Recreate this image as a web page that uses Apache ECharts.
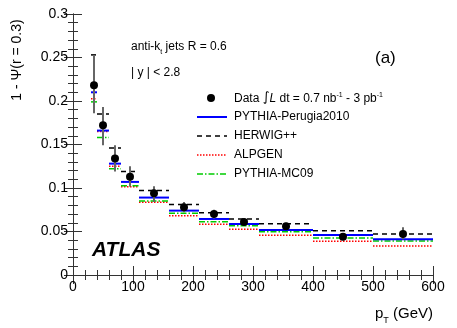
<!DOCTYPE html>
<html><head><meta charset="utf-8">
<script src="https://cdn.jsdelivr.net/npm/echarts@6/dist/echarts.min.js"></script>
<style>html,body{margin:0;padding:0;background:#fff}#c{width:457px;height:328px}</style>
</head><body><div id="c"></div>
<script>
const binLo = [30,40,60,80,110,160,210,260,310,400,500];
const binHi = [40,60,80,110,160,210,260,310,400,500,600];
const binCenter = [35,50,70,95,135,185,235,285,355,450,550];
const dataVal = [0.218,0.172,0.134,0.113,0.094,0.078,0.070,0.061,0.056,0.044,0.047];
const dataErrUp = [0.035,0.021,0.015,0.012,0.008,0.006,0.005,0.004,0.004,0.004,0.008];
const dataErrDn = [0.032,0.023,0.015,0.011,0.010,0.006,0.005,0.004,0.004,0.004,0.006];
const perugia = [0.210,0.166,0.128,0.107,0.089,0.074,0.0644,0.0586,0.0517,0.046,0.041];
const herwig  = [0.253,0.185,0.146,0.119,0.097,0.081,0.0716,0.0644,0.059,0.051,0.047];
const alpgen  = [0.2026,0.165,0.125,0.1015,0.0835,0.068,0.0583,0.0525,0.0456,0.0387,0.0333];
const mc09    = [0.199,0.158,0.122,0.1025,0.085,0.071,0.0613,0.0567,0.0498,0.0425,0.039];
const yTicks = [0,0.05,0.1,0.15,0.2,0.25,0.3];
const xTicks = [0,100,200,300,400,500,600];

const FONT = 'Liberation Sans, Arial, Helvetica, sans-serif';
const chart = echarts.init(document.getElementById('c'));

function histSeries(name, vals, color, width, dash, z) {
  return {
    name, type: 'custom', z,
    data: vals.map((v, i) => [binLo[i], binHi[i], v]),
    encode: { x: [0, 1], y: 2 },
    renderItem: function (params, api) {
      const a = api.coord([api.value(0), api.value(2)]);
      const b = api.coord([api.value(1), api.value(2)]);
      return { type: 'line', shape: { x1: a[0], y1: a[1], x2: b[0], y2: b[1] },
        style: { stroke: color, lineWidth: width, lineDash: dash } };
    }
  };
}

const axisCommon = {
  axisLine: { lineStyle: { color: '#333', width: 1 } },
  axisTick: { inside: true, length: 9, lineStyle: { color: '#333' } },
  minorTick: { show: true, splitNumber: 5, length: 5, lineStyle: { color: '#333' } },
  splitLine: { show: false }
};

chart.setOption({
  animation: false,
  grid: { left: 73, right: 24, top: 14, bottom: 53 },
  xAxis: [
    Object.assign({ type: 'value', min: 0, max: 600, interval: 100, position: 'bottom',
      axisLabel: { color: '#000', fontSize: 14, fontFamily: FONT, margin: 5 } }, axisCommon),
    Object.assign({ type: 'value', min: 0, max: 600, interval: 100, position: 'top',
      axisLabel: { show: false } }, axisCommon)
  ],
  yAxis: [
    Object.assign({ type: 'value', min: 0, max: 0.3, interval: 0.05, position: 'left',
      axisLabel: { color: '#000', fontSize: 14, fontFamily: FONT, margin: 5,
        formatter: v => String(+v.toFixed(2)) } }, axisCommon),
    Object.assign({ type: 'value', min: 0, max: 0.3, interval: 0.05, position: 'right',
      axisLabel: { show: false } }, axisCommon)
  ],
  series: [
    histSeries('ALPGEN', alpgen, '#ff0000', 1.5, [1.5, 1.5], 2),
    histSeries('PYTHIA-MC09', mc09, '#00cc00', 1.5, [6, 2, 1.5, 2], 3),
    histSeries('PYTHIA-Perugia2010', perugia, '#0000ff', 2, null, 4),
    histSeries('HERWIG++', herwig, '#000000', 1.5, [5, 4], 5),
    {
      name: 'err', type: 'custom', z: 6,
      data: binCenter.map((x, i) => [x, dataVal[i] - dataErrDn[i], dataVal[i] + dataErrUp[i]]),
      encode: { x: 0, y: [1, 2] },
      renderItem: function (params, api) {
        const a = api.coord([api.value(0), api.value(1)]);
        const b = api.coord([api.value(0), api.value(2)]);
        return { type: 'line', shape: { x1: a[0], y1: a[1], x2: b[0], y2: b[1] },
          style: { stroke: '#666', lineWidth: 2 } };
      }
    },
    {
      name: 'Data', type: 'scatter', z: 7, symbol: 'circle', symbolSize: 8,
      itemStyle: { color: '#000', opacity: 1 },
      data: binCenter.map((x, i) => [x, dataVal[i]])
    }
  ],
  graphic: [
    { type: 'text', x: 17, y: 60, rotation: Math.PI / 2,
      style: { text: '1 - Ψ(r = 0.3)', font: '14px ' + FONT, fill: '#000', align: 'center', verticalAlign: 'middle' } },
    { type: 'text', x: 433, y: 314,
      style: { text: '{n|p}{s|T}{n| (GeV)}', align: 'right', verticalAlign: 'middle',
        rich: { n: { font: '15px ' + FONT, fill: '#000', verticalAlign: 'bottom' },
                s: { font: '9px ' + FONT, fill: '#000', verticalAlign: 'bottom', padding: [0, 0, -4, 0] } } } },
    { type: 'text', x: 131, y: 47,
      style: { text: '{n|anti-k}{s|t}{n| jets R = 0.6}', verticalAlign: 'middle',
        rich: { n: { font: '12px ' + FONT, fill: '#000', verticalAlign: 'bottom' },
                s: { font: '7px ' + FONT, fill: '#000', verticalAlign: 'bottom', padding: [0, 0, -3, 0] } } } },
    { type: 'text', x: 131, y: 73,
      style: { text: '| y | < 2.8', font: '12px ' + FONT, fill: '#000', verticalAlign: 'middle' } },
    { type: 'text', x: 375, y: 58,
      style: { text: '(a)', font: '17px ' + FONT, fill: '#000', verticalAlign: 'middle' } },
    { type: 'text', x: 92, y: 250,
      style: { text: 'ATLAS', font: 'italic bold 21px ' + FONT, fill: '#000', verticalAlign: 'middle' } },
    // legend
    { type: 'circle', shape: { cx: 211, cy: 98, r: 4 }, style: { fill: '#000' } },
    { type: 'text', x: 234, y: 98,
      style: { text: '{n|Data }{i|∫}{li|L}{n| dt = 0.7 nb}{u|-1}{n| - 3 pb}{u|-1}', verticalAlign: 'middle',
        rich: { n: { font: '12px ' + FONT, fill: '#000', verticalAlign: 'bottom' },
                i: { font: '13px DejaVu Sans', fill: '#000', verticalAlign: 'bottom' },
                li: { font: 'italic 12px ' + FONT, fill: '#000', verticalAlign: 'bottom' },
                u: { font: '7px ' + FONT, fill: '#000', verticalAlign: 'top' } } } },
    { type: 'line', shape: { x1: 197, y1: 117, x2: 227, y2: 117 }, style: { stroke: '#0000ff', lineWidth: 2 } },
    { type: 'text', x: 234, y: 117, style: { text: 'PYTHIA-Perugia2010', font: '12px ' + FONT, fill: '#000', verticalAlign: 'middle' } },
    { type: 'line', shape: { x1: 197, y1: 136, x2: 227, y2: 136 }, style: { stroke: '#000', lineWidth: 1.5, lineDash: [5, 4] } },
    { type: 'text', x: 234, y: 136, style: { text: 'HERWIG++', font: '12px ' + FONT, fill: '#000', verticalAlign: 'middle' } },
    { type: 'line', shape: { x1: 197, y1: 155, x2: 227, y2: 155 }, style: { stroke: '#ff0000', lineWidth: 1.5, lineDash: [1.5, 1.5] } },
    { type: 'text', x: 234, y: 155, style: { text: 'ALPGEN', font: '12px ' + FONT, fill: '#000', verticalAlign: 'middle' } },
    { type: 'line', shape: { x1: 197, y1: 174, x2: 227, y2: 174 }, style: { stroke: '#00cc00', lineWidth: 1.5, lineDash: [6, 2, 1.5, 2] } },
    { type: 'text', x: 234, y: 174, style: { text: 'PYTHIA-MC09', font: '12px ' + FONT, fill: '#000', verticalAlign: 'middle' } }
  ]
});
</script></body></html>
